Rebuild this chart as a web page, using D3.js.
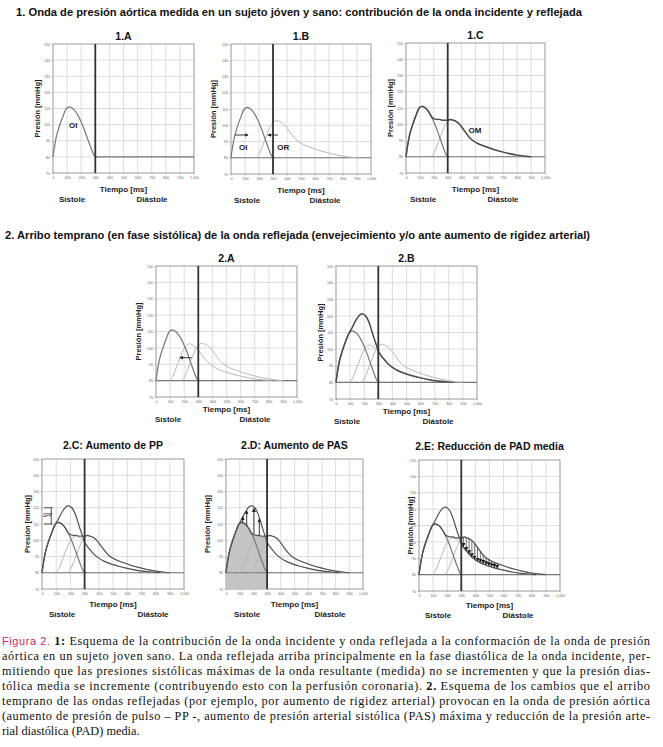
<!doctype html>
<html>
<head>
<meta charset="utf-8" />
<script src="https://d3js.org/d3.v7.min.js"></script>
<style>
  body{ margin:0; background:#fff; }
  svg text{ font-family: "Liberation Sans", Arial, sans-serif; }
</style>
</head>
<body>
<script>
// tick labels
var xTicks = [0,100,200,300,400,500,600,700,800,900,1000];
var yTicks = [70,80,90,100,110,120,130,140,150];

var OI = [[0,80],[10,86],[25,93],[45,99],[70,105],[95,110],[115,111],[140,110],[165,107.5],[190,103.5],[215,98.5],[240,92.5],[265,86.5],[285,82],[300,80.3],[315,80]];
var OR_late = [[180,80],[200,82],[220,86],[240,90.5],[260,95],[280,99],[300,101.5],[320,102.8],[340,102.5],[365,101.5],[390,99.5],[420,96],[450,92.5],[480,90],[520,88],[570,86.3],[620,84.8],[680,83.3],[740,82],[800,81],[860,80.3],[900,80]];
var OR_early = [[95,80],[115,82],[135,86],[155,90.5],[175,95],[195,99],[215,101.5],[235,102.5],[255,102],[280,100.5],[305,98],[335,94.5],[365,91.5],[400,89],[440,87],[490,85.3],[540,84],[600,82.7],[660,81.6],[720,80.8],[780,80.3],[830,80]];
var OM_young = [[0,80],[10,86],[25,93],[45,99],[70,105],[95,110],[115,111],[140,110],[165,107.5],[185,104.5],[200,103.5],[220,103],[240,103],[260,102.5],[280,102.5],[300,102.5],[320,103],[340,102.5],[365,101.5],[390,99.5],[420,96],[450,92.5],[480,90],[520,88],[570,86.3],[620,84.8],[680,83.3],[740,82],[800,81],[860,80.3],[900,80]];
var OM_old = [[0,80],[10,86],[25,93],[45,99],[70,105],[95,110],[115,113],[135,116.5],[155,119.2],[175,121],[190,121.2],[210,120],[230,117],[250,112],[270,106.5],[290,101.5],[305,98],[335,94.5],[365,91.5],[400,89],[440,87],[490,85.3],[540,84],[600,82.7],[660,81.6],[720,80.8],[780,80.3],[830,80]];

// marcas auxiliares
var arrows1B = [[30,121,94],[336,264,94]];     // [x1, x2, y]
var arrows2A = [[253,170,94]];
var arrows2D = [[122,111,114.5],[151,109,118],[204,103.5,119.5],[243,103,113]]; // [x, desde, hasta]
var hatch2E = [[315,102.8,96.9],[335,102.6,94.5],[355,101.9,92.5],[375,100.7,90.7],[395,99,89.3],[415,96.6,88],[435,94.2,87.2],[455,92,86.6],[475,90.4,85.8],[495,89.2,85.2],[515,88.3,84.6],[535,87.4,84.1],[555,86.8,83.7]];

var svg = d3.select("body").append("svg").attr("width", 663).attr("height", 747);

var defs = svg.append("defs");
defs.append("marker").attr("id","ah").attr("viewBox","0 0 6 6").attr("refX",5).attr("refY",3)
  .attr("markerWidth",4).attr("markerHeight",4).attr("markerUnits","userSpaceOnUse").attr("orient","auto")
  .append("path").attr("d","M0,0 L6,3 L0,6 z").attr("fill","#222");

var styles = {
  oi:  {stroke:"#777", width:1.2},
  or:  {stroke:"#b8b8b8", width:1},
  om:  {stroke:"#4a4a4a", width:1.5},
  omy: {stroke:"#555", width:1.2},
  omo: {stroke:"#555", width:1.2}
};

var panels = [
  {title:"1.A", left:53, top:44, w:141, h:129, tdy:4, ylx:16, xl:19, sx:19, dx:99, base:300,
   curves:[[OI,"oi"]], labels:[["OI",144,100]]},
  {title:"1.B", left:231, top:44, w:140, h:130, tdy:4, ylx:18, xl:19, sx:16, dx:94,
   curves:[[OR_late,"or"],[OI,"oi"]], labels:[["OI",88,86.8],["OR",374,86.8]], harrows:arrows1B},
  {title:"1.C", left:406, top:43, w:139, h:130, tdy:4, ylx:16, xl:19, sx:17, dx:97,
   curves:[[OR_late,"or"],[OI,"oi"],[OM_young,"om"]], labels:[["OM",496,96.7]]},
  {title:"2.A", left:156, top:266, w:141, h:131, tdy:4, ylx:18, xl:15, sx:12, dx:99,
   curves:[[OR_early,"or"],[OR_late,"or"],[OI,"oi"]], harrows:arrows2A},
  {title:"2.B", left:336, top:266, w:141, h:133, tdy:4, ylx:16, xl:15, sx:11, dx:102,
   curves:[[OR_early,"or"],[OR_late,"or"],[OI,"oi"],[OM_old,"om"]]},
  {title:"2.C: Aumento de PP", left:42, top:459, w:142, h:130, tdy:10, ylx:15, xl:18, sx:20, dx:111,
   curves:[[OR_early,"or"],[OR_late,"or"],[OI,"oi"],[OM_young,"omy"],[OM_old,"omo"]], dpp:true},
  {title:"2.D: Aumento de PAS", left:226, top:459, w:137, h:130, tdy:10, ylx:19, xl:18, sx:21, dx:104,
   curves:[[OR_early,"or"],[OR_late,"or"],[OI,"oi"],[OM_young,"omy"],[OM_old,"omo"]], shade:true, varrows:arrows2D},
  {title:"2.E: Reducción de PAD media", left:419, top:460, w:141, h:131, tdy:10, ylx:9, xl:17, sx:19, dx:99,
   curves:[[OR_early,"or"],[OR_late,"or"],[OI,"oi"],[OM_young,"omy"],[OM_old,"omo"]], hatch:hatch2E}
];

panels.forEach(function(p){
  var g = svg.append("g");
  var x = d3.scaleLinear().domain([0,1000]).range([p.left, p.left + p.w]);
  var y = d3.scaleLinear().domain([70,150]).range([p.top + p.h, p.top]);
  var line = d3.line().x(d => x(d[0])).y(d => y(d[1])).curve(d3.curveCatmullRom.alpha(0.5));

  // rejilla
  g.selectAll("line.gx").data(xTicks).enter().append("line")
    .attr("x1", d => x(d)).attr("x2", d => x(d)).attr("y1", y(70)).attr("y2", y(150))
    .attr("stroke", "#d4d4d4").attr("stroke-width", 0.8);
  g.selectAll("line.gy").data(yTicks).enter().append("line")
    .attr("y1", d => y(d)).attr("y2", d => y(d)).attr("x1", x(0)).attr("x2", x(1000))
    .attr("stroke", "#d4d4d4").attr("stroke-width", 0.8);
  g.append("rect").attr("x", x(0)).attr("y", y(150)).attr("width", p.w).attr("height", p.h)
    .attr("fill", "none").attr("stroke", "#999").attr("stroke-width", 0.8);

  if (p.shade) {
    var area = d3.area().x(d => x(d[0])).y0(y(70)).y1(d => y(d[1])).curve(d3.curveCatmullRom.alpha(0.5));
    g.append("path").datum(OM_young.filter(d => d[0] <= 300)).attr("d", area).attr("fill", "#c4c4c4");
  }

  // linea basal 80 mmHg
  g.append("line").attr("x1", x(p.base || 0)).attr("x2", x(1000)).attr("y1", y(80)).attr("y2", y(80))
    .attr("stroke", "#777").attr("stroke-width", 1.1);

  p.curves.forEach(function(c){
    g.append("path").datum(c[0]).attr("d", line).attr("fill", "none")
      .attr("stroke", styles[c[1]].stroke).attr("stroke-width", styles[c[1]].width);
  });

  if (p.hatch) {
    g.selectAll("line.h").data(p.hatch).enter().append("line")
      .attr("x1", d => x(d[0])).attr("x2", d => x(d[0])).attr("y1", d => y(d[1])).attr("y2", d => y(d[2]) - 0.5)
      .attr("stroke", "#333").attr("stroke-width", 0.7).attr("marker-end", "url(#ah)");
  }
  if (p.varrows) {
    g.selectAll("line.va").data(p.varrows).enter().append("line")
      .attr("x1", d => x(d[0])).attr("x2", d => x(d[0])).attr("y1", d => y(d[1])).attr("y2", d => y(d[2]))
      .attr("stroke", "#222").attr("stroke-width", 0.9).attr("marker-end", "url(#ah)");
  }
  if (p.harrows) {
    g.selectAll("line.ha").data(p.harrows).enter().append("line")
      .attr("x1", d => x(d[0])).attr("x2", d => x(d[1])).attr("y1", d => y(d[2])).attr("y2", d => y(d[2]))
      .attr("stroke", "#222").attr("stroke-width", 0.9).attr("marker-end", "url(#ah)");
  }
  if (p.dpp) {
    [120, 110].forEach(function(v){
      g.append("line").attr("x1", x(15)).attr("x2", x(75)).attr("y1", y(v)).attr("y2", y(v))
        .attr("stroke", "#222").attr("stroke-width", 0.8);
    });
    g.append("line").attr("x1", x(65)).attr("x2", x(65)).attr("y1", y(110)).attr("y2", y(120))
      .attr("stroke", "#222").attr("stroke-width", 0.8);
    g.append("text").attr("x", x(38)).attr("y", y(115) + 1.5).attr("text-anchor", "middle")
      .attr("font-size", 4.5).attr("fill", "#222").text("ΔPP");
  }

  // sistole / diastole
  g.append("line").attr("x1", x(300)).attr("x2", x(300)).attr("y1", y(70)).attr("y2", y(150))
    .attr("stroke", "#333").attr("stroke-width", 1.8);

  // ejes
  var ax = g.append("g").attr("transform", "translate(0," + y(70) + ")")
    .call(d3.axisBottom(x).tickValues(xTicks).tickSize(1.5).tickPadding(1.5));
  var ay = g.append("g").attr("transform", "translate(" + x(0) + ",0)")
    .call(d3.axisLeft(y).tickValues(yTicks).tickSize(1.5).tickPadding(1.5));
  [ax, ay].forEach(function(a){
    a.select(".domain").remove();
    a.selectAll("line").attr("stroke", "#888").attr("stroke-width", 0.5);
    a.selectAll("text").attr("font-size", 3.6).attr("fill", "#666").style("font-family", "Liberation Sans, Arial");
  });

  (p.labels || []).forEach(function(l){
    g.append("text").attr("x", x(l[1])).attr("y", y(l[2]) + 3).attr("text-anchor", "middle")
      .attr("font-size", 8).attr("font-weight", "bold").attr("fill", "#222").text(l[0]);
  });

  var cx = p.left + p.w / 2;
  g.append("text").attr("x", cx).attr("y", p.top - p.tdy).attr("text-anchor", "middle")
    .attr("font-size", 10.5).attr("font-weight", "bold").attr("fill", "#111").text(p.title);
  g.append("text").attr("transform", "translate(" + (p.left - p.ylx + 3) + "," + (p.top + p.h / 2) + ") rotate(-90)")
    .attr("text-anchor", "middle").attr("font-size", 7.5).attr("font-weight", "bold").attr("fill", "#222").text("Presión [mmHg]");
  g.append("text").attr("x", cx).attr("y", p.top + p.h + p.xl).attr("text-anchor", "middle")
    .attr("font-size", 8).attr("font-weight", "bold").attr("fill", "#222").text("Tiempo [ms]");
  g.append("text").attr("x", p.left + p.sx).attr("y", p.top + p.h + p.xl + 10).attr("text-anchor", "middle")
    .attr("font-size", 8).attr("font-weight", "bold").attr("fill", "#222").text("Sístole");
  g.append("text").attr("x", p.left + p.dx).attr("y", p.top + p.h + p.xl + 10).attr("text-anchor", "middle")
    .attr("font-size", 8).attr("font-weight", "bold").attr("fill", "#222").text("Diástole");
});

// titulos de seccion
svg.append("text").attr("x", 16).attr("y", 16).attr("font-size", 10).attr("font-weight", "bold").attr("fill", "#111")
  .attr("textLength", 566).attr("lengthAdjust", "spacingAndGlyphs")
  .text("1. Onda de presión aórtica medida en un sujeto jóven y sano: contribución de la onda incidente y reflejada");
svg.append("text").attr("x", 5).attr("y", 239).attr("font-size", 10).attr("font-weight", "bold").attr("fill", "#111")
  .attr("textLength", 585).attr("lengthAdjust", "spacingAndGlyphs")
  .text("2. Arribo temprano (en fase sistólica) de la onda reflejada (envejecimiento y/o ante aumento de rigidez arterial)");

// leyenda de la figura
var caption = [
  [["Figura 2. ","fig"],["1:","b"],[" Esquema de la contribución de la onda incidente y onda reflejada a la conformación de la onda de presión",""]],
  [["aórtica en un sujeto joven sano. La onda reflejada arriba principalmente en la fase diastólica de la onda incidente, per-",""]],
  [["mitiendo que las presiones sistólicas máximas de la onda resultante (medida) no se incrementen y que la presión dias-",""]],
  [["tólica media se incremente (contribuyendo esto con la perfusión coronaria). ",""],["2.","b"],[" Esquema de los cambios que el arribo",""]],
  [["temprano de las ondas reflejadas (por ejemplo, por aumento de rigidez arterial) provocan en la onda de presión aórtica",""]],
  [["(aumento de presión de pulso – PP -, aumento de presión arterial sistólica (PAS) máxima y reducción de la presión arte-",""]],
  [["rial diastólica (PAD) media.",""]]
];
caption.forEach(function(ln, i){
  var t = svg.append("text").attr("x", 2).attr("y", 645 + i * 15).attr("font-size", 12.3)
    .style("font-family", "Liberation Serif, Times New Roman, serif").attr("fill", "#111");
  if (i < caption.length - 1) t.attr("textLength", 648).attr("lengthAdjust", "spacing");
  ln.forEach(function(s){
    var ts = t.append("tspan").text(s[0]);
    if (s[1] === "fig") ts.attr("fill", "#d0245e").style("font-family", "Liberation Sans, Arial").attr("font-size", 11);
    if (s[1] === "b") ts.attr("font-weight", "bold");
  });
});
</script>
</body>
</html>
